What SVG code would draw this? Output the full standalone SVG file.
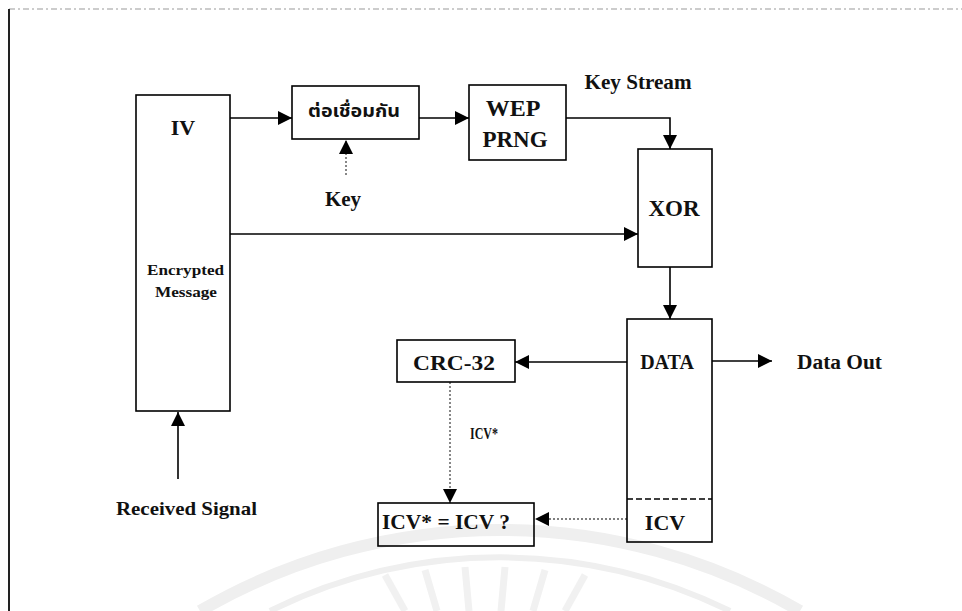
<svg xmlns="http://www.w3.org/2000/svg" width="962" height="611" viewBox="0 0 962 611">
<defs>
<style>
.box{fill:none;stroke:#000;stroke-width:1.6}
.ln{fill:none;stroke:#000;stroke-width:1.6}
.dot{fill:none;stroke:#555;stroke-width:1.4;stroke-dasharray:2 2}
.t{font-family:"Liberation Serif","Times New Roman",serif;font-weight:bold;fill:#111;text-anchor:middle;dominant-baseline:central}
.wm{fill:none;stroke:#efefef}
</style>
<marker id="ah" viewBox="0 0 10 10" refX="10" refY="5" markerWidth="14" markerHeight="14" markerUnits="userSpaceOnUse" orient="auto">
<path d="M0,0 L10,5 L0,10 z" fill="#000"/>
</marker>
</defs>
<rect width="962" height="611" fill="#fff"/>
<g id="watermark">
<path class="wm" stroke-width="12" d="M200,611 A596,596 0 0 1 800,611"/>
<path class="wm" stroke-width="6" d="M270,611 A520,520 0 0 1 730,611"/>
<g stroke="#f1f1f1" stroke-width="7">
<line x1="385" y1="575" x2="405" y2="611"/>
<line x1="425" y1="570" x2="437" y2="611"/>
<line x1="465" y1="567" x2="469" y2="611"/>
<line x1="505" y1="567" x2="501" y2="611"/>
<line x1="545" y1="570" x2="533" y2="611"/>
<line x1="585" y1="575" x2="565" y2="611"/>
</g>
</g>
<g id="frame">
<line x1="9" y1="9" x2="962" y2="9" stroke="#999" stroke-width="1" stroke-dasharray="6 3 2 3"/>
<line x1="9" y1="9" x2="9" y2="611" stroke="#222" stroke-width="2"/>
</g>
<g id="connectors">
<line class="ln" x1="230" y1="118" x2="292" y2="118" marker-end="url(#ah)"/>
<line class="dot" x1="346" y1="175" x2="346" y2="140" marker-end="url(#ah)"/>
<line class="ln" x1="419" y1="118" x2="469" y2="118" marker-end="url(#ah)"/>
<polyline class="ln" points="566,118 670,118 670,149" marker-end="url(#ah)"/>
<line class="ln" x1="230" y1="234" x2="638" y2="234" marker-end="url(#ah)"/>
<line class="ln" x1="670" y1="267" x2="670" y2="319" marker-end="url(#ah)"/>
<line class="ln" x1="712" y1="361" x2="772" y2="361" marker-end="url(#ah)"/>
<line class="ln" x1="627" y1="362" x2="515" y2="362" marker-end="url(#ah)"/>
<line class="dot" x1="450" y1="382" x2="450" y2="503" marker-end="url(#ah)"/>
<line class="dot" x1="627" y1="519" x2="535" y2="519" marker-end="url(#ah)"/>
<line class="ln" x1="178" y1="479" x2="178" y2="412" marker-end="url(#ah)"/>
</g>
<g id="iv">
<rect class="box" x="136" y="95" width="94" height="316"/>
<text class="t" x="183" y="127" font-size="22">IV</text>
<text class="t" x="185.5" y="270" font-size="14" textLength="77" lengthAdjust="spacingAndGlyphs">Encrypted</text>
<text class="t" x="186" y="292" font-size="14" textLength="62" lengthAdjust="spacingAndGlyphs">Message</text>
</g>
<g id="concat">
<rect class="box" x="292" y="86" width="127" height="53"/>
<text class="t" x="354" y="112" font-size="17" textLength="92" lengthAdjust="spacingAndGlyphs" style="font-family:'Noto Sans Thai','Noto Serif Thai','Liberation Serif','DejaVu Sans',sans-serif">ต่อเชื่อมกัน</text>
</g>
<g id="key">
<text class="t" x="343" y="199" font-size="21">Key</text>
</g>
<g id="wep">
<rect class="box" x="469" y="85" width="97" height="75"/>
<text class="t" x="513" y="108" font-size="24">WEP</text>
<text class="t" x="515" y="139" font-size="23">PRNG</text>
</g>
<g id="keystream">
<text class="t" x="638" y="82" font-size="21" textLength="107" lengthAdjust="spacingAndGlyphs">Key Stream</text>
</g>
<g id="xor">
<rect class="box" x="638" y="149" width="74" height="118"/>
<text class="t" x="674" y="208" font-size="23">XOR</text>
</g>
<g id="data">
<rect class="box" x="627" y="319" width="85" height="223"/>
<line x1="627" y1="499" x2="712" y2="499" stroke="#000" stroke-width="1.6" stroke-dasharray="6 3"/>
<text class="t" x="667" y="362" font-size="20">DATA</text>
<text class="t" x="665" y="522" font-size="22">ICV</text>
</g>
<g id="dataout">
<text class="t" x="839.5" y="362" font-size="20" textLength="85" lengthAdjust="spacingAndGlyphs">Data Out</text>
</g>
<g id="crc">
<rect class="box" x="397" y="340" width="118" height="42" stroke="#444"/>
<text class="t" x="454" y="362" font-size="22" textLength="82" lengthAdjust="spacingAndGlyphs">CRC-32</text>
</g>
<g id="icvstar">
<text class="t" x="484" y="433" font-size="17" textLength="28" lengthAdjust="spacingAndGlyphs">ICV*</text>
</g>
<g id="compare">
<rect class="box" x="378" y="503" width="156" height="43"/>
<text class="t" x="446" y="522" font-size="20" textLength="128" lengthAdjust="spacingAndGlyphs">ICV* = ICV ?</text>
</g>
<g id="received">
<text class="t" x="186.5" y="508" font-size="19" textLength="141" lengthAdjust="spacingAndGlyphs">Received Signal</text>
</g>
</svg>
